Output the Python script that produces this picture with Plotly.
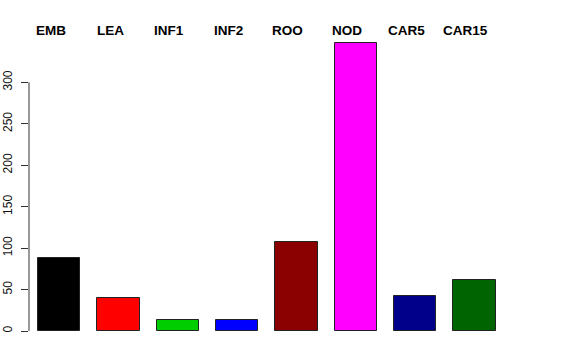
import plotly.graph_objects as go

categories = ["EMB", "LEA", "INF1", "INF2", "ROO", "NOD", "CAR5", "CAR15"]
values = [88, 40, 13, 13, 107, 347, 42, 62]
colors = ["#000000", "#FF0000", "#00CD00", "#0000FF", "#8B0000", "#FF00FF", "#00008B", "#006400"]
yticks = [0, 50, 100, 150, 200, 250, 300]

space = 0.4
centers = [space + 0.5 + k * (1 + space) for k in range(len(categories))]

fig = go.Figure()
fig.add_trace(go.Bar(
    x=centers, y=values, width=1.0,
    marker=dict(color=colors, line=dict(color="#222222", width=1)),
    showlegend=False, hoverinfo="skip",
))

for c, lab in zip(centers, categories):
    fig.add_annotation(x=c - 0.2, y=1, xref="x", yref="paper", yanchor="bottom",
                       text="<b>" + lab + "</b>", showarrow=False,
                       font=dict(family="Liberation Sans, Arial, sans-serif", size=13.5, color="black"),
                       yshift=-8)

# R-style axis line from first to last tick
fig.add_shape(type="line", xref="paper", yref="y", x0=0, x1=0, y0=yticks[0], y1=yticks[-1],
              line=dict(color="#333333", width=1))

fig.update_layout(
    width=576, height=360,
    margin=dict(l=29, r=47, t=32, b=18, autoexpand=False),
    plot_bgcolor="white", paper_bgcolor="white",
    bargap=0,
    xaxis=dict(range=[0.187, 11.99], showticklabels=False, showgrid=False, zeroline=False,
               showline=False, ticks="", automargin=False),
    yaxis=dict(range=[-13.27, 360.7], tickvals=yticks, ticktext=[str(v) for v in yticks],
               showgrid=False, zeroline=False, showline=False, automargin=False,
               ticks="outside", ticklen=7, tickcolor="#333333", tickangle=-90,
               ticklabelstandoff=4,
               tickfont=dict(family="Liberation Sans, Arial, sans-serif", size=12, color="#111111")),
)

fig.write_html("out.html")
